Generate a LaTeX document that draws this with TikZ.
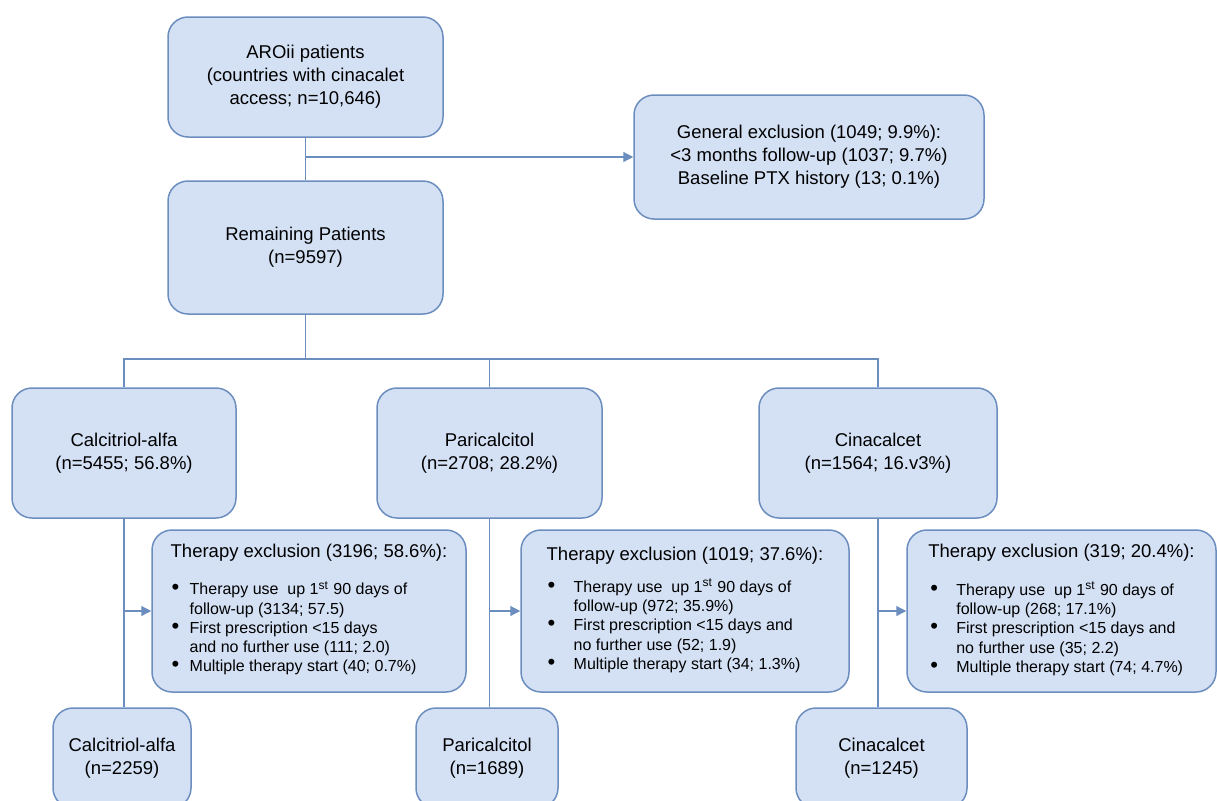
\documentclass[tikz,border=0pt]{standalone}
\usepackage{fontspec}
\setmainfont{Liberation Sans}
\usepackage{tikz}
\usetikzlibrary{positioning, arrows.meta}

\definecolor{boxfill}{HTML}{D4E1F5}
\definecolor{boxline}{HTML}{6C8EBF}
\newcommand{\bigdot}{{\fontsize{11}{9}\selectfont\textbullet}}

\begin{document}
\begin{tikzpicture}[x=0.5pt, y=-0.5pt,
        box/.style = {rectangle, rounded corners=10pt, draw=boxline, line width=0.75pt,
                     fill=boxfill, align=center, inner sep=0pt,
                     font=\fontsize{9.25}{11.5}\selectfont},
       excl/.style = {box, align=left},
       line/.style = {draw=boxline, line width=0.6pt},
        arr/.style = {line, -{Triangle[length=5pt,width=5pt]}}
                        ]
\useasboundingbox (0,0) rectangle (1217,800);
% top part
\node (aroii) [box, minimum width=137.5pt, minimum height=60pt] at (305.5,77)
      {AROii patients\\(countries with cinacalet\\access; n=10,646)};
\node (remain) [box, minimum width=137.5pt, minimum height=66.5pt] at (305.5,247.5)
      {Remaining Patients\\(n=9597)};
\node (genexcl) [box, minimum width=175pt, minimum height=62pt] at (809,157)
      {General exclusion (1049; 9.9\%):\\<3 months follow-up (1037; 9.7\%)\\Baseline PTX history (13; 0.1\%)};
% therapy groups
\node (calc) [box, minimum width=112pt, minimum height=65pt] at (124,453)
      {Calcitriol-alfa\\(n=5455; 56.8\%)};
\node (pari) [box, minimum width=112.5pt, minimum height=65pt] at (489.5,453)
      {Paricalcitol\\(n=2708; 28.2\%)};
\node (cina) [box, minimum width=119pt, minimum height=65pt] at (878,453)
      {Cinacalcet\\(n=1564; 16.v3\%)};
% therapy exclusions
\node (exclcalc) [excl, minimum width=157pt, minimum height=81pt] at (309,611)
      {Therapy exclusion (3196; 58.6\%):\\[7pt]
       {\fontsize{8}{9.65}\selectfont
       \begin{tabular}[t]{@{\hspace{0.5pt}}p{9pt}@{}l@{}}
       \bigdot & Therapy use\ \ up 1\textsuperscript{st} 90 days of\\
               & follow-up (3134; 57.5)\\
       \bigdot & First prescription <15 days\\
               & and no further use (111; 2.0)\\
       \bigdot & Multiple therapy start (40; 0.7\%)
       \end{tabular}}};
\node (exclpari) [excl, minimum width=164pt, minimum height=81pt] at (685,611)
      {Therapy exclusion (1019; 37.6\%):\\[4.5pt]
       {\fontsize{8}{9.65}\selectfont
       \begin{tabular}[t]{@{\hspace{0.5pt}}p{13pt}@{}l@{}}
       \bigdot & Therapy use\ \ up 1\textsuperscript{st} 90 days of\\
               & follow-up (972; 35.9\%)\\
       \bigdot & First prescription <15 days and\\
               & no further use (52; 1.9)\\
       \bigdot & Multiple therapy start (34; 1.3\%)
       \end{tabular}}};
\node (exclcina) [excl, minimum width=154.5pt, minimum height=81pt] at (1061.5,611)
      {Therapy exclusion (319; 20.4\%):\\[7.5pt]
       {\fontsize{8}{9.65}\selectfont
       \begin{tabular}[t]{@{\hspace{1pt}}p{13pt}@{}l@{}}
       \bigdot & Therapy use\ \ up 1\textsuperscript{st} 90 days of\\
               & follow-up (268; 17.1\%)\\
       \bigdot & First prescription <15 days and\\
               & no further use (35; 2.2)\\
       \bigdot & Multiple therapy start (74; 4.7\%)
       \end{tabular}}};
% final groups
\node (calcend) [box, minimum width=69pt, minimum height=50pt] at (122,758)
      {Calcitriol-alfa\\(n=2259)};
\node (pariend) [box, minimum width=71pt, minimum height=50pt] at (487,758)
      {Paricalcitol\\(n=1689)};
\node (cinaend) [box, minimum width=85.5pt, minimum height=50pt] at (881.5,758)
      {Cinacalcet\\(n=1245)};
% connectors
\coordinate (fork) at (305.5,359);
\draw[line] (aroii) -- (remain);
\draw[arr] (aroii.south |- genexcl.west) -- (genexcl.west);
\draw[line] (remain) -- (fork);
\draw[line] (calc) |- (fork) -| (cina);
\draw[line] (pari) -- (pari |- fork);
\draw[line] (calc.south) -- (calc.south |- calcend.north);
\draw[arr] (calc.south |- exclcalc.west) -- (exclcalc.west);
\draw[line] (pari.south) -- (pari.south |- pariend.north);
\draw[arr] (pari.south |- exclpari.west) -- (exclpari.west);
\draw[line] (cina.south) -- (cina.south |- cinaend.north);
\draw[arr] (cina.south |- exclcina.west) -- (exclcina.west);
\end{tikzpicture}
\end{document}
